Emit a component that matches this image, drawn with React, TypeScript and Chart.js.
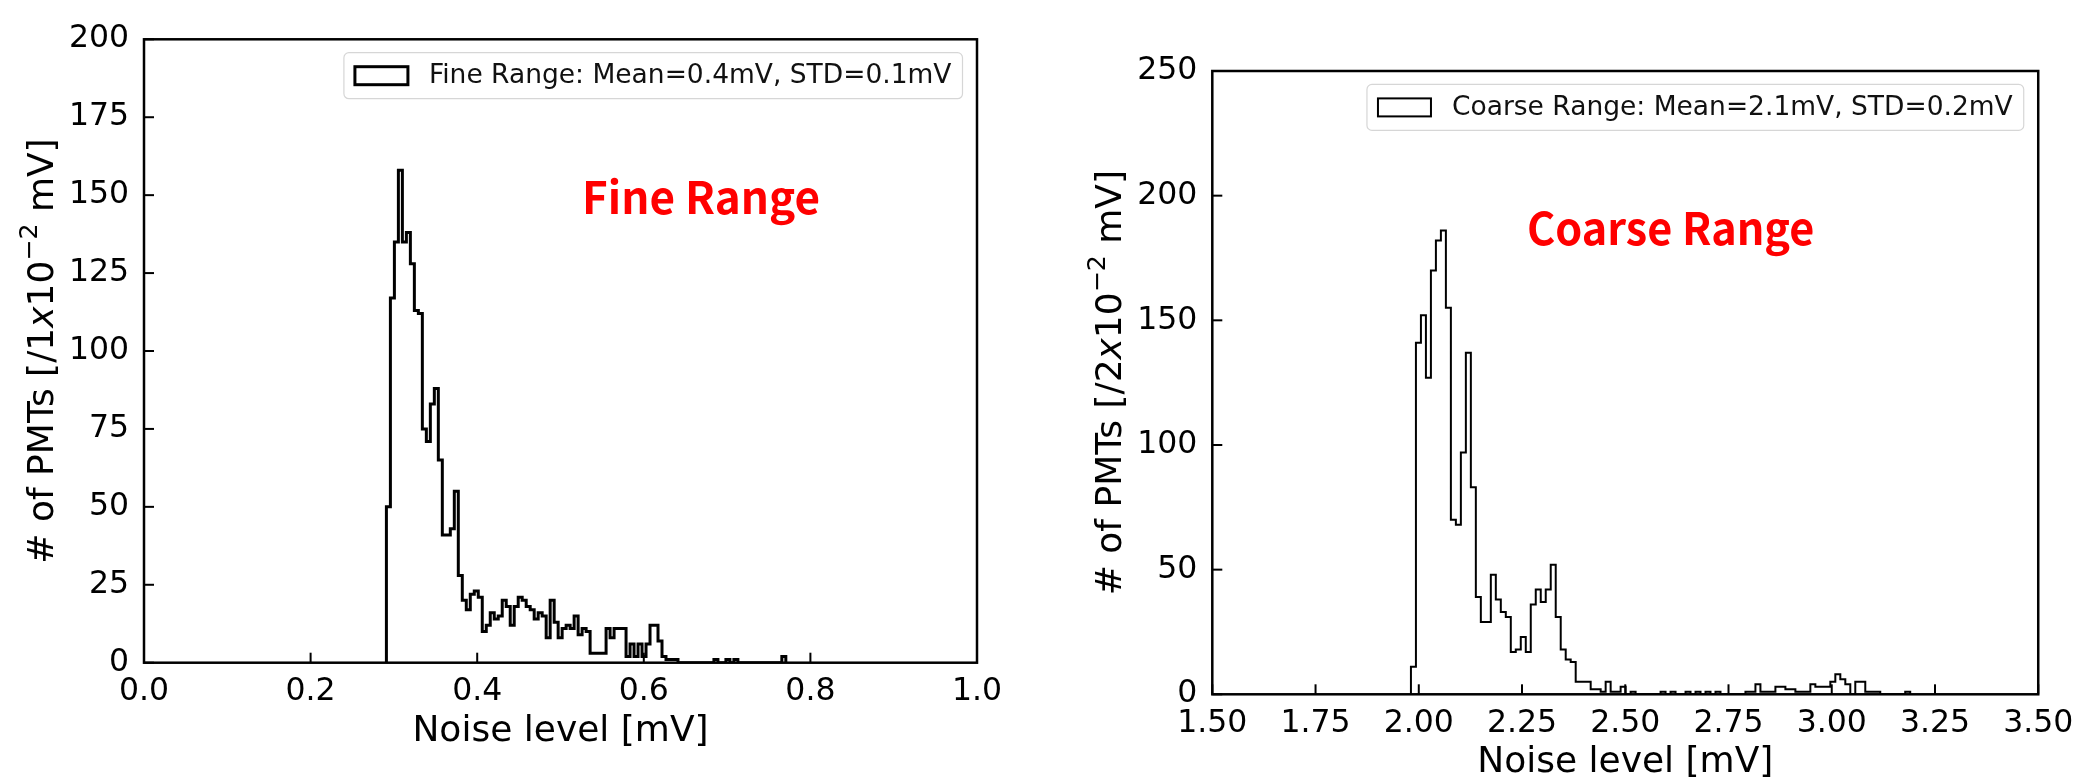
import React, { useEffect, useRef } from "react";
import { Chart, registerables } from "chart.js";

Chart.register(...registerables);

// ---------------- data ----------------
// Fine range histogram: 100 bins between fineBinStart and fineBinEnd (mV)
const fineBinStart = 0.291;
const fineBinEnd = 0.7705;
const fineCounts = [
  50, 117, 135, 158, 135, 138, 128, 113, 112, 75,
  71, 83, 88, 65, 41, 41, 43, 55, 28, 20,
  17, 22, 23, 21, 10, 12, 16, 14, 15, 20,
  18, 12, 18, 21, 20, 18, 17, 14, 16, 15,
  8, 20, 13, 8, 11, 12, 11, 15, 9, 11,
  10, 3, 3, 3, 3, 11, 8, 11, 11, 11,
  2, 6, 2, 6, 2, 6, 12, 12, 7, 2,
  1, 1, 1, 0, 0, 0, 0, 0, 0, 0,
  0, 0, 1, 0, 0, 1, 0, 1, 0, 0,
  0, 0, 0, 0, 0, 0, 0, 0, 0, 2,
];
const fineLabel = "Fine Range: Mean=0.4mV, STD=0.1mV";
const fineAnnotation = "Fine Range";
const fineYTitle = ["# of PMTs [/1", "x", "10", "\u22122", " mV]"];
const fineXTicks = { min: 0, max: 1, step: 0.2, decimals: 1 };
const fineYTicks = { min: 0, max: 200, step: 25 };

// Coarse range histogram: 100 bins between coarseBinStart and coarseBinEnd (mV)
const coarseBinStart = 1.981;
const coarseBinEnd = 3.19;
const coarseCounts = [
  11, 141, 152, 127, 170, 182, 186, 155, 70, 68,
  97, 137, 83, 39, 29, 29, 48, 38, 33, 31,
  17, 18, 23, 17, 36, 42, 37, 42, 52, 31,
  18, 14, 13, 5, 5, 5, 2, 2, 1, 5,
  1, 1, 3, 0, 1, 0, 0, 0, 0, 0,
  1, 0, 1, 0, 0, 1, 0, 1, 0, 1,
  0, 1, 0, 0, 0, 0, 0, 1, 1, 4,
  1, 1, 1, 3, 3, 2, 2, 1, 1, 1,
  4, 3, 3, 3, 5, 8, 6, 4, 0, 5,
  5, 1, 1, 1, 0, 0, 0, 0, 0, 1,
];
const coarseLabel = "Coarse Range: Mean=2.1mV, STD=0.2mV";
const coarseAnnotation = "Coarse Range";
const coarseYTitle = ["# of PMTs [/2", "x", "10", "\u22122", " mV]"];
const coarseXTicks = { min: 1.5, max: 3.5, step: 0.25, decimals: 2 };
const coarseYTicks = { min: 0, max: 250, step: 50 };

const xTitle = "Noise level [mV]";

// ---------------- helpers ----------------
const FAMILY = "'DejaVu Sans', sans-serif";
const TITLE_SIZE = 36;

function histPoints(counts: number[], start: number, end: number) {
  const w = (end - start) / counts.length;
  const pts: { x: number; y: number }[] = [{ x: start, y: 0 }];
  counts.forEach((c, i) => pts.push({ x: start + i * w, y: c }));
  pts.push({ x: end, y: 0 });
  return pts;
}

type Area = { left: number; top: number; right: number; bottom: number };

interface Panel {
  counts: number[];
  binStart: number;
  binEnd: number;
  label: string;
  annotation: string;
  annotWidthFrac: number;
  yTitle: string[];
  xt: { min: number; max: number; step: number; decimals: number };
  yt: { min: number; max: number; step: number };
  lineWidth: number;
  width: number;
  height: number;
  area: Area;
  xTitlePad: number;
  annot: [number, number];
}

const framePlugin = {
  id: "frameTicks",
  afterDatasetsDraw(chart: any) {
    const { ctx, chartArea: a, scales } = chart;
    ctx.save();
    ctx.strokeStyle = "#000";
    ctx.lineWidth = 2;
    for (const t of scales.x.ticks) {
      const px = scales.x.getPixelForValue(t.value);
      ctx.beginPath();
      ctx.moveTo(px, a.bottom);
      ctx.lineTo(px, a.bottom - 10);
      ctx.stroke();
    }
    for (const t of scales.y.ticks) {
      const py = scales.y.getPixelForValue(t.value);
      ctx.beginPath();
      ctx.moveTo(a.left, py);
      ctx.lineTo(a.left + 10, py);
      ctx.stroke();
    }
    ctx.lineWidth = 2.5;
    ctx.strokeRect(a.left, a.top, a.right - a.left, a.bottom - a.top);
    ctx.restore();
  },
};

function roundRect(ctx: CanvasRenderingContext2D, x: number, y: number, w: number, h: number, r: number) {
  ctx.beginPath();
  ctx.moveTo(x + r, y);
  ctx.lineTo(x + w - r, y);
  ctx.arcTo(x + w, y, x + w, y + r, r);
  ctx.lineTo(x + w, y + h - r);
  ctx.arcTo(x + w, y + h, x + w - r, y + h, r);
  ctx.lineTo(x + r, y + h);
  ctx.arcTo(x, y + h, x, y + h - r, r);
  ctx.lineTo(x, y + r);
  ctx.arcTo(x, y, x + r, y, r);
  ctx.closePath();
}

function drawYTitle(ctx: CanvasRenderingContext2D, parts: string[], baseX: number, centerY: number, size: number) {
  // parts: [plain, italic, plain, superscript, plain]
  const fonts = [
    `${size}px ${FAMILY}`,
    `italic ${size}px ${FAMILY}`,
    `${size}px ${FAMILY}`,
    `${size * 0.7}px ${FAMILY}`,
    `${size}px ${FAMILY}`,
  ];
  const shifts = [0, 0, 0, -size * 0.43, 0];
  ctx.save();
  const widths = parts.map((t, i) => {
    ctx.font = fonts[i];
    return ctx.measureText(t).width;
  });
  const total = widths.reduce((s, w) => s + w, 0);
  ctx.translate(baseX, centerY);
  ctx.rotate(-Math.PI / 2);
  ctx.fillStyle = "#000";
  ctx.textBaseline = "alphabetic";
  ctx.textAlign = "left";
  let x = -total / 2;
  parts.forEach((t, i) => {
    ctx.font = fonts[i];
    ctx.fillText(t, x, shifts[i]);
    x += widths[i];
  });
  ctx.restore();
}

function makeOverlay(p: Panel) {
  return {
    id: "overlay",
    afterDraw(chart: any) {
      const { ctx, chartArea: a } = chart;
      const ds = chart.data.datasets[0];
      ctx.save();
      // y-axis title with superscript
      drawYTitle(ctx, p.yTitle, a.left - 91.5, (a.top + a.bottom) / 2, TITLE_SIZE);
      // legend
      ctx.font = `26.5px ${FAMILY}`;
      const tw = ctx.measureText(ds.label).width;
      const boxRight = a.right - 14.5;
      const boxW = 85 + tw + 11;
      const boxLeft = boxRight - boxW;
      const boxTop = a.top + 13.4;
      const boxH = 46;
      roundRect(ctx, boxLeft, boxTop, boxW, boxH, 5);
      ctx.fillStyle = "rgba(255,255,255,0.85)";
      ctx.fill();
      ctx.strokeStyle = "#d6d6d6";
      ctx.lineWidth = 1.2;
      ctx.stroke();
      ctx.strokeStyle = "#000";
      ctx.lineWidth = p.lineWidth;
      ctx.strokeRect(boxLeft + 11, boxTop + 14, 53, 18);
      ctx.fillStyle = "#111";
      ctx.textBaseline = "alphabetic";
      ctx.textAlign = "left";
      ctx.fillText(ds.label, boxLeft + 85, boxTop + 30.6);
      // annotation
      ctx.font = `bold 45px 'Noto Sans CJK SC', 'Noto Sans', sans-serif`;
      ctx.fillStyle = "#ff0000";
      const ax = a.left + p.annot[0] * (a.right - a.left);
      const ay = a.top + p.annot[1] * (a.bottom - a.top);
      const mw = ctx.measureText(p.annotation).width;
      const target = p.annotWidthFrac * (a.right - a.left);
      ctx.translate(ax, ay);
      ctx.scale(target / mw, 1);
      ctx.fillText(p.annotation, 0, 0);
      ctx.restore();
    },
  };
}

function buildChart(canvas: HTMLCanvasElement, p: Panel) {
  const W = p.width;
  const H = p.height;
  return new Chart(canvas, {
    type: "line",
    data: {
      datasets: [
        {
          label: p.label,
          data: histPoints(p.counts, p.binStart, p.binEnd),
          stepped: "before",
          borderColor: "#000",
          borderWidth: p.lineWidth,
          pointRadius: 0,
          fill: false,
          tension: 0,
        },
      ],
    },
    options: {
      animation: false,
      responsive: false,
      maintainAspectRatio: false,
      layout: {
        padding: { left: 0, top: p.area.top, right: W - p.area.right, bottom: 0 },
      },
      plugins: {
        legend: { display: false },
        tooltip: { enabled: false },
      },
      scales: {
        x: {
          type: "linear",
          min: p.xt.min,
          max: p.xt.max,
          afterFit: (s: any) => {
            s.height = H - p.area.bottom;
          },
          grid: { display: false, drawTicks: false },
          border: { display: false },
          ticks: {
            stepSize: p.xt.step,
            autoSkip: false,
            maxRotation: 0,
            padding: 10.7,
            color: "#000",
            font: { family: FAMILY, size: 31.5 },
            callback: (v: any) => Number(v).toFixed(p.xt.decimals),
          },
          title: {
            display: true,
            text: xTitle,
            color: "#000",
            font: { family: FAMILY, size: TITLE_SIZE },
            padding: { top: 0, bottom: p.xTitlePad },
          },
        },
        y: {
          type: "linear",
          min: p.yt.min,
          max: p.yt.max,
          afterFit: (s: any) => {
            s.width = p.area.left;
          },
          grid: { display: false, drawTicks: false },
          border: { display: false },
          ticks: {
            stepSize: p.yt.step,
            autoSkip: false,
            padding: 15,
            color: "#000",
            font: { family: FAMILY, size: 31.5 },
          },
          title: { display: false },
        },
      },
    } as any,
    plugins: [framePlugin, makeOverlay(p)],
  } as any);
}

const fineW = 1040;
const coarseW = 1042;
const H = 781;

const finePanel: Panel = {
  counts: fineCounts,
  binStart: fineBinStart,
  binEnd: fineBinEnd,
  label: fineLabel,
  annotation: fineAnnotation,
  annotWidthFrac: 0.2857,
  yTitle: fineYTitle,
  xt: fineXTicks,
  yt: fineYTicks,
  lineWidth: 3,
  width: fineW,
  height: H,
  area: { left: 144, top: 39.3, right: 977, bottom: 662.7 },
  xTitlePad: 28.1,
  annot: [0.5258, 0.28],
};

const coarsePanel: Panel = {
  counts: coarseCounts,
  binStart: coarseBinStart,
  binEnd: coarseBinEnd,
  label: coarseLabel,
  annotation: coarseAnnotation,
  annotWidthFrac: 0.348,
  yTitle: coarseYTitle,
  xt: coarseXTicks,
  yt: coarseYTicks,
  lineWidth: 2,
  width: coarseW,
  height: H,
  area: { left: 170.3, top: 71, right: 1003.3, bottom: 694.3 },
  xTitlePad: -3.5,
  annot: [0.381, 0.279],
};

export default function App() {
  const refA = useRef<HTMLCanvasElement>(null);
  const refB = useRef<HTMLCanvasElement>(null);

  useEffect(() => {
    const a = buildChart(refA.current!, finePanel);
    const b = buildChart(refB.current!, coarsePanel);
    let alive = true;
    try {
      Promise.all([
        (document as any).fonts.load(`31px 'DejaVu Sans'`),
        (document as any).fonts.load(`italic 31px 'DejaVu Sans'`),
        (document as any).fonts.load(`bold 45px 'Noto Sans CJK SC'`),
      ]).then(() => {
        if (alive) {
          a.update();
          b.update();
        }
      });
    } catch (e) {}
    return () => {
      alive = false;
      a.destroy();
      b.destroy();
    };
  }, []);

  return (
    <div
      style={{
        position: "fixed",
        left: 0,
        top: 0,
        width: 2084,
        height: 781,
        overflow: "hidden",
        background: "#fff",
      }}
    >
      <canvas
        ref={refA}
        width={fineW}
        height={H}
        style={{ position: "absolute", left: 0, top: 0, width: fineW, height: H }}
      />
      <canvas
        ref={refB}
        width={coarseW}
        height={H}
        style={{ position: "absolute", left: 1042, top: 0, width: coarseW, height: H }}
      />
    </div>
  );
}
